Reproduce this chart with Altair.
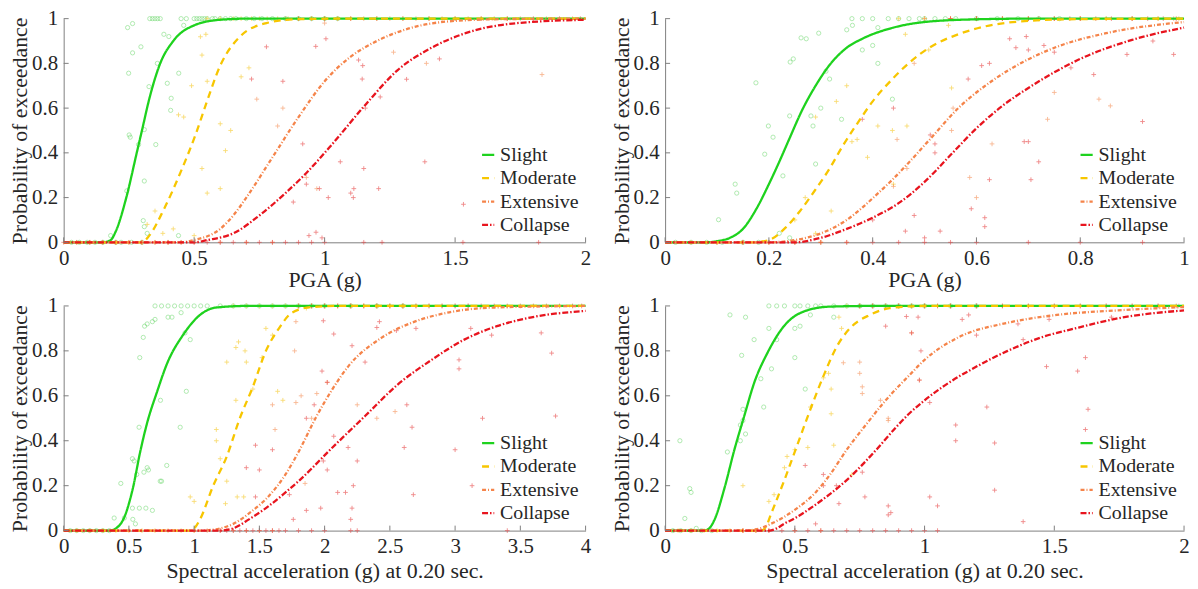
import altair as alt
import pandas as pd

FONT = "Liberation Serif, Times New Roman, Times, DejaVu Serif, serif"
STATES = ["Slight", "Moderate", "Extensive", "Collapse"]
LINE_COLORS = ["#1ed21e", "#f7c600", "#f5844a", "#e8141e"]
DASHES = [[1, 0], [7, 5], [4, 2, 1, 2], [6, 2, 1.5, 2]]
WIDTHS = [2.3, 2.3, 1.5, 2.3]
PT_COLORS = {"Slight": "#4fd04f", "Moderate": "#f5c518", "Extensive": "#f5884c", "Collapse": "#e63a3a"}
YTICKS = [0, 0.2, 0.4, 0.6, 0.8, 1]
YTITLE = "Probability of exceedance"
PLUS = "M-1,0L1,0M0,-1L0,1"

# ---------------- panel 1 (top-left): PGA 0-2 ----------------
p1_xticks = [0, 0.5, 1, 1.5, 2]
p1_S_cx = [0, 0.15, 0.18, 0.2, 0.24, 0.28, 0.3, 0.33, 0.37, 0.42, 0.5, 0.6, 0.7, 1.0, 2.0]
p1_S_cy = [0, 0, 0.01, 0.05, 0.2, 0.4, 0.5, 0.65, 0.8, 0.9, 0.97, 0.995, 1, 1, 1]
p1_M_cx = [0, 0.3, 0.328, 0.385, 0.454, 0.505, 0.549, 0.6, 0.676, 0.777, 0.9, 1.1, 2.0]
p1_M_cy = [0, 0, 0.03, 0.15, 0.33, 0.48, 0.63, 0.79, 0.92, 0.98, 0.998, 1, 1]
p1_E_cx = [0, 0.45, 0.5, 0.6, 0.65, 0.7, 0.8, 0.9, 1.0, 1.1, 1.2, 1.32, 1.5, 1.7, 2.0]
p1_E_cy = [0, 0, 0.01, 0.06, 0.12, 0.2, 0.38, 0.56, 0.72, 0.83, 0.9, 0.955, 0.99, 0.998, 1]
p1_C_cx = [0, 0.5, 0.55, 0.65, 0.75, 0.85, 0.93, 1.03, 1.16, 1.28, 1.41, 1.54, 1.72, 2.0]
p1_C_cy = [0, 0, 0.01, 0.04, 0.12, 0.22, 0.31, 0.44, 0.62, 0.77, 0.87, 0.935, 0.978, 0.995]

p1_S_px = [0.18, 0.242, 0.245, 0.249, 0.251, 0.255, 0.264, 0.264, 0.287, 0.296, 0.305, 0.309, 0.309, 0.309, 0.32, 0.327, 0.353, 0.359, 0.384, 0.397, 0.403, 0.41, 0.412, 0.441, 0.44, 0.46]
p1_S_py = [0.03, 0.23, 0.96, 0.756, 0.48, 0.47, 0.978, 0.847, 0.437, 0.874, 0.097, 0.504, 0.274, 0.07, 0.04, 0.696, 0.437, 0.8, 0.93, 0.711, 0.92, 0.59, 0.644, 0.756, 0.03, 0.97]
p1_S_top = [0.33, 0.34, 0.35, 0.36, 0.37, 0.45, 0.47, 0.5, 0.51, 0.52, 0.53, 0.54, 0.55, 0.57, 0.58, 0.6, 0.62, 0.64, 0.66, 0.7, 0.73, 0.76, 0.8, 0.85, 0.9, 0.95, 1.0, 1.05]
p1_S_bot = [0.03, 0.06, 0.09, 0.12, 0.15, 0.2, 0.22, 0.26, 0.3]
p1_M_px = [0.524, 0.545, 0.53, 0.55, 0.49, 0.44, 0.46, 0.6, 0.64, 0.62, 0.53, 0.55, 0.6, 0.35, 0.32, 0.68, 0.71, 0.38, 0.5, 0.42]
p1_M_py = [0.919, 0.93, 0.837, 0.72, 0.70, 0.57, 0.56, 0.53, 0.50, 0.41, 0.33, 0.22, 0.24, 0.14, 0.08, 0.74, 0.78, 0.04, 0.03, 0.06]
p1_M_top = [0.55, 0.6, 0.65, 0.68, 0.72, 0.75, 0.78, 0.82, 0.86, 0.9, 0.95, 1.0, 1.05, 1.1, 1.2, 1.3, 1.4, 1.5, 1.6, 1.7]
p1_M_bot = [0.05, 0.1, 0.15, 0.2, 0.25, 0.3, 0.35, 0.4, 0.45]
p1_E_px = [0.74, 0.84, 1.833, 0.97, 0.93, 1.264, 1.39, 0.82, 1.0]
p1_E_py = [0.64, 0.6, 0.75, 0.24, 0.29, 0.85, 0.8, 0.52, 0.98]
p1_E_top = [0.85, 0.95, 1.05, 1.15, 1.25, 1.35, 1.45, 1.55, 1.65, 1.75, 1.85, 1.95]
p1_E_bot = [0.1, 0.2, 0.3, 0.4, 0.5, 0.6, 0.7, 0.8]
p1_C_px = [0.777, 0.84, 1.005, 0.966, 1.13, 1.146, 1.144, 1.314, 1.44, 1.213, 1.156, 0.916, 1.06, 1.15, 1.384, 1.207, 1.112, 1.1, 1.11, 1.014, 0.98, 0.93, 1.532, 0.967, 0.94, 0.99, 0.72, 0.88]
p1_C_py = [0.874, 0.72, 0.91, 0.876, 0.815, 0.79, 0.73, 0.729, 0.82, 0.65, 0.6, 0.44, 0.36, 0.33, 0.36, 0.24, 0.24, 0.22, 0.2, 0.2, 0.24, 0.26, 0.17, 0.045, 0.03, 0.02, 0.73, 0.18]
p1_C_top = [0.9, 1.0, 1.1, 1.2, 1.3, 1.4, 1.5, 1.6, 1.7, 1.8, 1.9, 1.98]
p1_C_bot = [0.0, 0.05, 0.1, 0.15, 0.2, 0.25, 0.3, 0.35, 0.4, 0.45, 0.5, 0.55, 0.6, 0.65, 0.7, 0.75, 0.8, 0.85, 0.9, 0.95, 1.0, 1.15, 1.22, 1.53, 1.82]

# ---------------- panel 2 (top-right): PGA 0-1 ----------------
p2_xticks = [0, 0.2, 0.4, 0.6, 0.8, 1]
p2_S_cx = [0, 0.08, 0.1, 0.125, 0.15, 0.176, 0.2, 0.22, 0.237, 0.266, 0.29, 0.316, 0.35, 0.38, 0.44, 0.5, 0.6, 0.7, 1.0]
p2_S_cy = [0, 0, 0.005, 0.02, 0.06, 0.15, 0.26, 0.36, 0.45, 0.6, 0.7, 0.79, 0.87, 0.91, 0.96, 0.985, 0.997, 1, 1]
p2_M_cx = [0, 0.17, 0.2, 0.234, 0.26, 0.291, 0.317, 0.342, 0.37, 0.4, 0.438, 0.469, 0.514, 0.565, 0.616, 0.7, 0.8, 1.0]
p2_M_cy = [0, 0, 0.01, 0.07, 0.14, 0.24, 0.33, 0.43, 0.53, 0.63, 0.73, 0.8, 0.877, 0.93, 0.965, 0.99, 0.998, 1]
p2_E_cx = [0, 0.2, 0.25, 0.3, 0.35, 0.38, 0.406, 0.438, 0.469, 0.514, 0.565, 0.629, 0.693, 0.756, 0.85, 1.0]
p2_E_cy = [0, 0, 0.01, 0.04, 0.1, 0.155, 0.21, 0.28, 0.355, 0.47, 0.6, 0.72, 0.81, 0.875, 0.935, 0.985]
p2_C_cx = [0, 0.25, 0.3, 0.35, 0.4, 0.45, 0.5, 0.55, 0.6, 0.65, 0.7, 0.75, 0.8, 0.9, 1.0]
p2_C_cy = [0, 0, 0.02, 0.06, 0.11, 0.175, 0.27, 0.39, 0.51, 0.61, 0.69, 0.76, 0.82, 0.905, 0.96]

p2_S_px = [0.103, 0.135, 0.138, 0.175, 0.199, 0.192, 0.208, 0.227, 0.241, 0.247, 0.262, 0.272, 0.24, 0.285, 0.296, 0.281, 0.317, 0.31, 0.3, 0.34, 0.361, 0.35, 0.38, 0.4, 0.41, 0.41, 0.438, 0.24, 0.22, 0.29]
p2_S_py = [0.101, 0.26, 0.22, 0.713, 0.52, 0.394, 0.47, 0.297, 0.806, 0.82, 0.914, 0.91, 0.565, 0.52, 0.935, 0.565, 0.73, 0.765, 0.6, 0.55, 0.97, 0.95, 0.86, 0.88, 0.96, 0.8, 0.64, 0.02, 0.04, 0.35]
p2_S_top = [0.36, 0.38, 0.4, 0.43, 0.45, 0.47, 0.49, 0.5, 0.52, 0.54, 0.56, 0.6, 0.64, 0.68, 0.72, 0.76]
p2_S_bot = [0.02, 0.05, 0.08, 0.11, 0.15, 0.18]
p2_M_px = [0.29, 0.27, 0.29, 0.33, 0.35, 0.37, 0.463, 0.508, 0.546, 0.438, 0.466, 0.552, 0.44, 0.41, 0.32, 0.36, 0.25, 0.39]
p2_M_py = [0.04, 0.2, 0.56, 0.63, 0.7, 0.46, 0.93, 0.86, 0.97, 0.5, 0.52, 0.69, 0.26, 0.52, 0.14, 0.45, 0.1, 0.38]
p2_M_top = [0.45, 0.5, 0.55, 0.6, 0.65, 0.7, 0.75, 0.8, 0.85, 0.9, 0.95, 0.99]
p2_M_bot = [0.05, 0.1, 0.15, 0.2, 0.25, 0.3]
p2_E_px = [0.447, 0.466, 0.44, 0.552, 0.555, 0.63, 0.75, 0.737, 0.587, 0.6, 0.836, 0.858, 0.48]
p2_E_py = [0.46, 0.33, 0.25, 0.5, 0.6, 0.44, 0.67, 0.55, 0.29, 0.2, 0.64, 0.61, 0.8]
p2_E_top = [0.5, 0.55, 0.6, 0.65, 0.7, 0.75, 0.8, 0.85, 0.9, 0.95, 0.98]
p2_E_bot = [0.1, 0.15, 0.2, 0.25, 0.3, 0.35]
p2_C_px = [0.511, 0.52, 0.52, 0.584, 0.625, 0.61, 0.664, 0.696, 0.676, 0.7, 0.73, 0.75, 0.782, 0.826, 0.692, 0.7, 0.72, 0.705, 0.625, 0.616, 0.616, 0.59, 0.48, 0.463, 0.5, 0.53, 0.92, 0.94, 0.98, 0.89, 0.44, 0.38, 0.4]
p2_C_py = [0.48, 0.44, 0.4, 0.73, 0.8, 0.79, 0.91, 0.92, 0.87, 0.86, 0.88, 0.85, 0.78, 0.75, 0.45, 0.45, 0.36, 0.28, 0.28, 0.11, 0.07, 0.15, 0.12, 0.05, 0.02, 0.05, 0.54, 0.9, 0.84, 0.84, 0.6, 0.55, 0.1]
p2_C_top = [0.55, 0.6, 0.65, 0.7, 0.72, 0.75, 0.78, 0.8, 0.83, 0.86, 0.9, 0.93, 0.96, 0.985]
p2_C_bot = [0.1, 0.15, 0.2, 0.25, 0.3, 0.35, 0.4, 0.45, 0.5, 0.55, 0.6, 0.7, 0.8, 0.92]

# ---------------- panel 3 (bottom-left): Sa 0-4 ----------------
p3_xticks = [0, 0.5, 1, 1.5, 2, 2.5, 3, 3.5, 4]
p3_S_cx = [0, 0.35, 0.4, 0.465, 0.527, 0.59, 0.64, 0.717, 0.79, 0.92, 1.045, 1.17, 1.4, 4]
p3_S_cy = [0, 0, 0.01, 0.06, 0.18, 0.36, 0.48, 0.62, 0.74, 0.875, 0.96, 0.993, 1, 1]
p3_M_cx = [0, 0.95, 1.0, 1.045, 1.146, 1.25, 1.35, 1.45, 1.55, 1.65, 1.75, 1.9, 2.1, 4]
p3_M_cy = [0, 0, 0.01, 0.05, 0.2, 0.33, 0.5, 0.64, 0.8, 0.9, 0.97, 0.995, 1, 1]
p3_E_cx = [0, 1.05, 1.2, 1.3, 1.45, 1.55, 1.7, 1.8, 1.93, 2.06, 2.18, 2.44, 2.69, 2.94, 3.3, 4]
p3_E_cy = [0, 0, 0.01, 0.03, 0.09, 0.14, 0.25, 0.35, 0.5, 0.63, 0.73, 0.86, 0.93, 0.97, 0.993, 1]
p3_C_cx = [0, 1.2, 1.3, 1.42, 1.55, 1.68, 1.8, 2.06, 2.31, 2.56, 2.82, 3.07, 3.32, 3.575, 4]
p3_C_cy = [0, 0, 0.01, 0.05, 0.1, 0.16, 0.22, 0.37, 0.51, 0.65, 0.76, 0.85, 0.91, 0.948, 0.978]

p3_S_px = [0.438, 0.387, 0.465, 0.53, 0.55, 0.527, 0.58, 0.63, 0.68, 0.527, 0.54, 0.615, 0.64, 0.56, 0.65, 0.74, 0.75, 0.79, 0.578, 0.893, 0.742, 0.583, 0.61, 0.62, 0.64, 0.68, 0.70, 0.8, 0.83, 0.93, 0.97, 0.94, 0.9]
p3_S_py = [0.21, 0.056, 0.056, 0.05, 0.03, 0.1, 0.1, 0.1, 0.09, 0.32, 0.31, 0.26, 0.28, 0.25, 0.27, 0.22, 0.22, 0.29, 0.46, 0.46, 0.58, 0.77, 0.86, 0.91, 0.92, 0.93, 0.94, 0.95, 0.95, 0.88, 0.85, 0.62, 0.97]
p3_S_top = [0.7, 0.75, 0.8, 0.85, 0.9, 0.95, 1.0, 1.05, 1.1, 1.2, 1.3, 1.4, 1.5, 1.6, 1.7, 1.8, 1.9, 2.0, 2.2, 2.4, 2.6]
p3_S_bot = [0.05, 0.1, 0.15, 0.2, 0.25, 0.3, 0.35]
p3_M_px = [1.32, 1.34, 1.25, 1.17, 1.17, 1.2, 1.25, 1.33, 1.38, 1.24, 1.32, 1.45, 1.55, 1.6, 1.68, 1.64, 1.0, 0.97, 1.4, 1.39, 1.52, 1.86]
p3_M_py = [0.815, 0.84, 0.75, 0.45, 0.4, 0.32, 0.22, 0.15, 0.15, 0.12, 0.58, 0.63, 0.9, 0.87, 0.58, 0.62, 0.13, 0.15, 0.75, 0.8, 0.77, 0.99]
p3_M_top = [1.3, 1.4, 1.5, 1.6, 1.7, 1.8, 1.9, 2.0, 2.1, 2.2, 2.3, 2.4, 2.5, 2.6]
p3_M_bot = [0.1, 0.2, 0.3, 0.4, 0.5, 0.6, 0.7, 0.8, 0.9, 1.0]
p3_E_px = [1.78, 1.77, 1.82, 1.6, 1.78, 1.9, 1.85, 2.02, 1.94, 2.25, 2.4, 2.54, 1.62]
p3_E_py = [0.93, 0.8, 0.6, 0.56, 0.57, 0.5, 0.21, 0.66, 0.61, 0.56, 0.5, 0.53, 0.45]
p3_E_top = [1.9, 2.0, 2.1, 2.2, 2.3, 2.4, 2.5, 2.6, 2.7, 2.8, 2.9, 3.0, 3.1]
p3_E_bot = [1.0, 1.1, 1.2, 1.3, 1.4, 1.5, 1.6]
p3_C_px = [1.98, 1.6, 1.47, 1.5, 1.4, 1.47, 1.73, 1.97, 1.76, 1.99, 2.07, 2.21, 2.4, 2.55, 2.7, 3.12, 3.28, 3.66, 3.74, 3.03, 3.03, 2.31, 2.02, 1.92, 1.86, 2.07, 2.18, 2.25, 1.99, 2.02, 2.63, 2.67, 2.61, 2.68, 3.0, 3.21, 3.77, 3.13, 2.22, 2.16, 2.1, 2.21, 1.86, 2.2, 2.42]
p3_C_py = [0.71, 0.36, 0.38, 0.27, 0.28, 0.15, 0.16, 0.1, 0.05, 0.934, 0.875, 0.823, 0.904, 0.89, 0.9, 0.9, 0.87, 0.88, 0.79, 0.76, 0.72, 0.75, 0.66, 0.56, 0.5, 0.42, 0.37, 0.31, 0.31, 0.27, 0.56, 0.46, 0.37, 0.16, 0.36, 0.5, 0.51, 0.2, 0.2, 0.17, 0.17, 0.1, 0.09, 0.05, 0.93]
p3_C_top = [1.8, 1.9, 2.0, 2.1, 2.2, 2.3, 2.4, 2.5, 2.6, 2.7, 2.8, 2.9, 3.0, 3.1, 3.2, 3.3, 3.4, 3.5, 3.6, 3.7, 3.8, 3.9, 3.97]
p3_C_bot = [1.2, 1.25, 1.3, 1.35, 1.4, 1.45, 1.5, 1.55, 1.6, 1.65, 1.7, 1.8, 1.9, 2.0, 2.2, 2.25, 3.4]

# ---------------- panel 4 (bottom-right): Sa 0-2 ----------------
p4_xticks = [0, 0.5, 1, 1.5, 2]
p4_S_cx = [0, 0.15, 0.17, 0.191, 0.229, 0.267, 0.305, 0.344, 0.394, 0.458, 0.534, 0.636, 0.8, 2]
p4_S_cy = [0, 0, 0.01, 0.05, 0.19, 0.36, 0.51, 0.66, 0.79, 0.91, 0.975, 0.997, 1, 1]
p4_M_cx = [0, 0.37, 0.39, 0.407, 0.458, 0.509, 0.56, 0.611, 0.662, 0.712, 0.789, 0.865, 1, 2]
p4_M_cy = [0, 0, 0.02, 0.07, 0.22, 0.38, 0.54, 0.69, 0.82, 0.9, 0.96, 0.99, 1, 1]
p4_E_cx = [0, 0.3, 0.35, 0.407, 0.509, 0.58, 0.636, 0.7, 0.78, 0.85, 0.94, 1.0, 1.13, 1.32, 1.51, 1.77, 2]
p4_E_cy = [0, 0, 0.005, 0.03, 0.1, 0.17, 0.25, 0.36, 0.48, 0.58, 0.69, 0.76, 0.86, 0.925, 0.96, 0.982, 0.995]
p4_C_cx = [0, 0.4, 0.43, 0.458, 0.5, 0.573, 0.7, 0.814, 0.89, 0.94, 1.0, 1.07, 1.2, 1.32, 1.45, 1.58, 1.77, 2]
p4_C_cy = [0, 0, 0.01, 0.03, 0.055, 0.11, 0.225, 0.36, 0.46, 0.52, 0.58, 0.64, 0.73, 0.8, 0.86, 0.9, 0.95, 0.98]

p4_S_px = [0.076, 0.095, 0.1, 0.057, 0.24, 0.29, 0.29, 0.3, 0.31, 0.3, 0.295, 0.369, 0.38, 0.343, 0.31, 0.4, 0.43, 0.41, 0.5, 0.52, 0.54, 0.5, 0.56, 0.65, 0.25, 0.12]
p4_S_py = [0.054, 0.187, 0.17, 0.4, 0.35, 0.4, 0.47, 0.49, 0.43, 0.54, 0.78, 0.676, 0.55, 0.85, 0.95, 0.9, 0.85, 0.72, 0.9, 0.91, 0.63, 0.77, 0.96, 0.95, 0.96, 0.01]
p4_S_top = [0.4, 0.43, 0.46, 0.5, 0.52, 0.55, 0.58, 0.6, 0.65, 0.7, 0.75, 0.8, 0.85, 0.9, 0.95, 1.0, 1.1, 1.2]
p4_S_bot = [0.03, 0.06, 0.1, 0.14, 0.18]
p4_M_px = [0.3, 0.4, 0.42, 0.47, 0.46, 0.56, 0.61, 0.63, 0.64, 0.68, 0.67, 0.64, 0.65, 0.72, 0.5, 0.55]
p4_M_py = [0.2, 0.13, 0.16, 0.33, 0.28, 0.55, 0.68, 0.7, 0.52, 0.9, 0.95, 0.63, 0.38, 0.25, 0.36, 0.37]
p4_M_top = [0.7, 0.75, 0.8, 0.85, 0.9, 0.95, 1.0, 1.05, 1.1]
p4_M_bot = [0.05, 0.1, 0.15, 0.2, 0.25, 0.3, 0.35]
p4_E_px = [0.687, 0.75, 0.75, 0.76, 0.76, 0.83, 0.86, 0.86, 0.95, 0.98]
p4_E_py = [0.747, 0.75, 0.7, 0.64, 0.61, 0.58, 0.49, 0.5, 0.88, 0.67]
p4_E_top = [0.75, 0.8, 0.9, 1.0, 1.1, 1.2, 1.3, 1.4, 1.5, 1.6, 1.7, 1.8, 1.9, 1.98]
p4_E_bot = [0.3, 0.4, 0.5, 0.6]
p4_C_px = [0.61, 0.54, 0.58, 0.61, 0.77, 0.85, 0.86, 0.87, 0.76, 0.66, 0.67, 0.93, 0.975, 0.95, 0.986, 0.98, 1.02, 1.12, 1.12, 1.24, 1.27, 1.27, 1.02, 1.05, 0.86, 1.2, 1.145, 1.17, 1.36, 1.38, 1.47, 1.59, 1.62, 1.63, 1.62, 1.38, 1.72, 1.48]
p4_C_py = [0.25, 0.29, 0.03, 0.2, 0.15, 0.91, 0.07, 0.08, 0.26, 0.2, 0.12, 0.953, 0.95, 0.88, 0.8, 0.67, 0.57, 0.47, 0.4, 0.55, 0.39, 0.18, 0.15, 0.11, 0.11, 0.87, 0.94, 0.96, 0.92, 0.85, 0.73, 0.71, 0.77, 0.54, 0.45, 0.04, 0.95, 0.94]
p4_C_top = [0.75, 0.8, 0.85, 0.9, 0.95, 1.0, 1.05, 1.1, 1.2, 1.3, 1.4, 1.5, 1.6, 1.7, 1.8, 1.9, 1.97]
p4_C_bot = [0.3, 0.35, 0.4, 0.45, 0.5, 0.55, 0.6, 0.65, 0.7, 0.75, 0.8, 0.85, 0.9, 0.95, 1.0, 1.05]


def curves_df(p):
    g = globals()
    rows = []
    for s, k in zip(STATES, "SMEC"):
        for a, b in zip(g[f"{p}_{k}_cx"], g[f"{p}_{k}_cy"]):
            rows.append({"x": a, "y": b, "state": s})
    return pd.DataFrame(rows)


def points_df(p):
    g = globals()
    rows = []
    for s, k in zip(STATES, "SMEC"):
        for a, b in zip(g[f"{p}_{k}_px"], g[f"{p}_{k}_py"]):
            rows.append({"x": a, "y": b, "state": s})
        for a in g[f"{p}_{k}_top"]:
            rows.append({"x": a, "y": 1.0, "state": s})
        for a in g[f"{p}_{k}_bot"]:
            rows.append({"x": a, "y": 0.0, "state": s})
    return pd.DataFrame(rows)


def panel(p, xmax, xticks, xtitle, W, H, tpad):
    xenc = alt.X("x:Q", scale=alt.Scale(domain=[0, xmax], nice=False, zero=False),
                 axis=alt.Axis(values=xticks, title=xtitle, format="~g", titlePadding=tpad))
    yenc = alt.Y("y:Q", scale=alt.Scale(domain=[0, 1], nice=False),
                 axis=alt.Axis(values=YTICKS, title=YTITLE, format="~g"))
    pts = points_df(p)
    layers = []
    for s in STATES:
        base = alt.Chart(pts).transform_filter(alt.datum.state == s)
        if s == "Slight":
            m = base.mark_point(shape="circle", filled=False, size=18, strokeWidth=0.8,
                                opacity=0.55, color=PT_COLORS[s])
        else:
            m = base.mark_point(shape=PLUS, filled=False, size=22, strokeWidth=0.9,
                                opacity=0.6, color=PT_COLORS[s])
        layers.append(m.encode(x=xenc, y=yenc))
    leg = alt.Legend(title=None, orient="bottom-right", offset=7, symbolType="stroke",
                     symbolSize=150, labelFont=FONT, labelFontSize=20, labelColor="#262626",
                     rowPadding=3.5, labelOffset=2, padding=0)
    lines = alt.Chart(curves_df(p)).mark_line(interpolate="monotone").encode(
        x=xenc, y=yenc,
        color=alt.Color("state:N", scale=alt.Scale(domain=STATES, range=LINE_COLORS), legend=leg),
        strokeDash=alt.StrokeDash("state:N", scale=alt.Scale(domain=STATES, range=DASHES), legend=leg),
        strokeWidth=alt.StrokeWidth("state:N", scale=alt.Scale(domain=STATES, range=WIDTHS), legend=leg),
    )
    layers.append(lines)
    xt = alt.Chart(pd.DataFrame({"x": xticks})).mark_rule(color="#7f7f7f", strokeWidth=1).encode(
        x=xenc, y=alt.value(H), y2=alt.value(H - 5))
    yt = alt.Chart(pd.DataFrame({"y": YTICKS})).mark_rule(color="#7f7f7f", strokeWidth=1).encode(
        y=yenc, x=alt.value(0), x2=alt.value(5))
    layers += [xt, yt]
    return alt.layer(*layers).properties(width=W, height=H)


c1 = panel("p1", 2, p1_xticks, "PGA (g)", 525, 225, 1)
c2 = panel("p2", 1, p2_xticks, "PGA (g)", 522, 225, 1)
c3 = panel("p3", 4, p3_xticks, "Spectral acceleration (g) at 0.20 sec.", 525, 226, 4)
c4 = panel("p4", 2, p4_xticks, "Spectral acceleration (g) at 0.20 sec.", 522, 226, 4)

chart = alt.concat(c1, c2, c3, c4, columns=2, spacing={"row": 5, "column": 18}).resolve_scale(
    color="independent", strokeDash="independent", strokeWidth="independent"
).properties(
    padding={"left": 0, "top": -2, "right": 0, "bottom": 0}
).configure_view(stroke=None).configure_axis(
    labelFont=FONT, labelFontSize=21, labelColor="#262626",
    titleFont=FONT, titleFontSize=22, titleFontWeight="normal", titleColor="#262626",
    domainColor="#7f7f7f", domainWidth=1, ticks=False, tickSize=0, grid=False,
    labelFlush=False, labelOverlap=False,
    labelPadding=6, titlePadding=0
).configure_axisX(labelPadding=5)

chart.save("out.html", embed_options={"renderer": "svg", "actions": False})
